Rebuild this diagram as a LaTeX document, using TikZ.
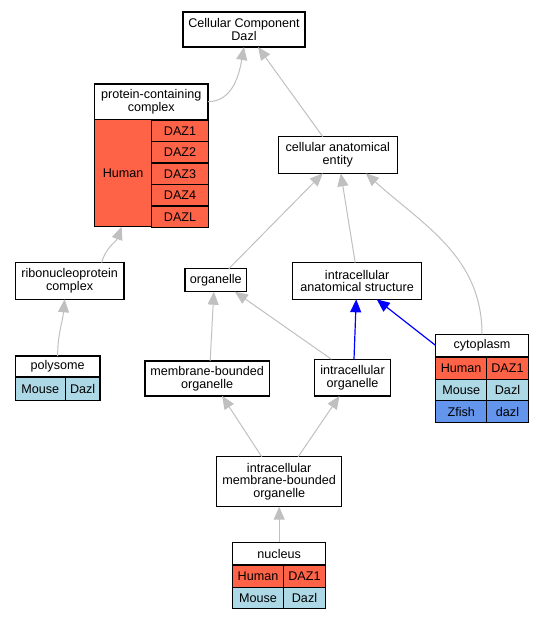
\documentclass[tikz,border=0pt]{standalone}
\usepackage{fontspec}
\setmainfont{Liberation Sans}
\usetikzlibrary{positioning}
\usetikzlibrary{matrix}
\usetikzlibrary{arrows.meta}

\definecolor{human}{HTML}{FF6347}
\definecolor{mouse}{HTML}{ADD8E6}
\definecolor{zfish}{HTML}{6495ED}
\definecolor{edgegray}{HTML}{C0C0C0}
\newcommand{\termfont}{\fontsize{12.6}{12.6}\selectfont}

\tikzset{
	term/.style={draw, line width=1.1pt, fill=white, align=center, inner sep=1pt, outer sep=0pt},
	cell/.style={draw, line width=1.1pt, inner sep=0pt, outer sep=0pt, anchor=center},
	celltable/.style={matrix of nodes, inner sep=0pt, column sep=-1.1pt, row sep=-1.1pt,
		ampersand replacement=\&},
	isa/.style={draw=edgegray, line width=1pt, -{Triangle[length=13pt,width=11pt]}},
	partof/.style={isa, draw=blue, line width=1.2pt}
}

\begin{document}
\begin{tikzpicture}[x=1pt, y=1pt, font=\termfont]
	\useasboundingbox (0,0) rectangle (543,-619);
	% terms
	\node[term, minimum width=122pt, minimum height=35pt] (cc) at (244,-29.5) {Cellular Component\\Dazl};
	\node[term, minimum width=113.5pt, minimum height=35.3pt] (pcc) at (151.25,-101.65) {protein-containing\\complex};
	\node[cell, fill=human, minimum width=57.2pt, minimum height=107.4pt, anchor=north west] (pcc-h) at (pcc.south west) {Human};
	\matrix[celltable, matrix anchor=north west,
		nodes={cell, fill=human, minimum width=56.3pt, minimum height=21.48pt}
		] (pcc-t) at ([xshift=-0.55pt]pcc-h.north east)
	{
		DAZ1 \\ DAZ2 \\ DAZ3 \\ DAZ4 \\ DAZL \\
	};
	\node[term, minimum width=119pt, minimum height=36.6pt] (cae) at (337.8,-155) {cellular anatomical\\entity};
	\node[term, minimum width=108.7pt, minimum height=36.6pt] (rnp) at (69.65,-281) {ribonucleoprotein\\complex};
	\node[term, minimum width=61.7pt, minimum height=23pt] (org) at (215.85,-280.2) {organelle};
	\node[term, minimum width=129pt, minimum height=36.6pt] (ias) at (357.2,-281) {intracellular\\anatomical structure};
	\node[term, minimum width=84.7pt, minimum height=20.7pt] (poly) at (57.65,-366.35) {polysome};
	\matrix[celltable, matrix anchor=north,
		nodes={cell, fill=mouse, minimum height=23.3pt},
		column 1/.style={nodes={minimum width=50pt}},
		column 2/.style={nodes={minimum width=34.7pt}}
		] (poly-t) at (poly.south)
	{
		Mouse \& Dazl \\
	};
	\node[term, minimum width=124.3pt, minimum height=35pt] (mbo) at (207.15,-378.5) {membrane-bounded\\organelle};
	\node[term, minimum width=76.4pt, minimum height=36.7pt] (io) at (352.5,-377.65) {intracellular\\organelle};
	\node[term, minimum width=92.6pt, minimum height=22.4pt] (cyto) at (482,-345.5) {cytoplasm};
	\matrix[celltable, matrix anchor=north,
		nodes={cell, minimum height=21.7pt},
		column 1/.style={nodes={minimum width=51pt}},
		column 2/.style={nodes={minimum width=41.6pt}},
		row 1/.style={nodes={fill=human}},
		row 2/.style={nodes={fill=mouse}},
		row 3/.style={nodes={fill=zfish}}
		] (cyto-t) at (cyto.south)
	{
		Human \& DAZ1 \\
		Mouse \& Dazl \\
		Zfish \& dazl \\
	};
	\node[term, minimum width=125pt, minimum height=50pt] (imbo) at (279.2,-481.7) {intracellular\\membrane-bounded\\organelle};
	\node[term, minimum width=93pt, minimum height=22.7pt] (nuc) at (279.2,-553.65) {nucleus};
	\matrix[celltable, matrix anchor=north,
		nodes={cell, minimum height=21.4pt},
		column 1/.style={nodes={minimum width=50.6pt}},
		column 2/.style={nodes={minimum width=42.4pt}},
		row 1/.style={nodes={fill=human}},
		row 2/.style={nodes={fill=mouse}}
		] (nuc-t) at (nuc.south)
	{
		Human \& DAZ1 \\
		Mouse \& Dazl \\
	};
	% is_a edges
	\draw[isa] (pcc.east) to[out=0, in=-100] (cc.south);
	\draw[isa] ([xshift=-15pt]cae.north) -- ([xshift=14pt]cc.south);
	\draw[isa] ([xshift=32pt]rnp.north) to[out=75, in=-110] ([xshift=-1.5pt]pcc-h.south);
	\draw[isa] (poly.north) to[out=90, in=-95] ([xshift=-5pt]rnp.south);
	\draw[isa] ([xshift=13pt]org.north) -- ([xshift=-15pt]cae.south);
	\draw[isa] ([xshift=-2pt]ias.north) -- ([xshift=3pt]cae.south);
	\draw[isa] (cyto.north) to[out=90, in=-42] ([xshift=28pt]cae.south);
	\draw[isa] ([xshift=3pt]mbo.north) -- ([xshift=-2pt]org.south);
	\draw[isa] ([xshift=-21pt]io.north) -- ([xshift=19pt]org.south);
	\draw[isa] ([xshift=-17.5pt]imbo.north) -- ([xshift=15pt]mbo.south);
	\draw[isa] ([xshift=19pt]imbo.north) -- ([xshift=-13pt]io.south);
	\draw[isa] (nuc.north) -- (imbo.south);
	% part_of edges
	\draw[partof] ([xshift=1.5pt]io.north) -- ([xshift=-1pt]ias.south);
	\draw[partof] (cyto.west) -- ([xshift=19.5pt]ias.south);
\end{tikzpicture}
\end{document}
